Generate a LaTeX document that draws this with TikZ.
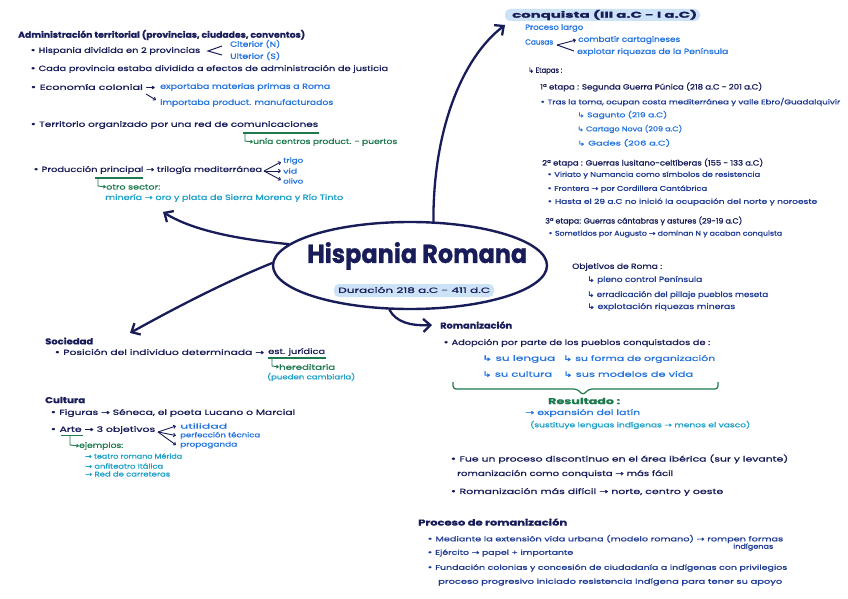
\documentclass[tikz,border=0pt]{standalone}
\usepackage{fontspec}
\usepackage{graphicx}
\setmainfont{Poppins}[FakeBold=0.9]
\newfontfamily\symf{DejaVu Sans}[FakeBold=0.6]
\usetikzlibrary{shapes.geometric,arrows.meta,calc}
\definecolor{navy}{RGB}{24,28,88}
\definecolor{mblue}{RGB}{30,58,146}
\definecolor{bblue}{RGB}{36,116,222}
\definecolor{dgreen}{RGB}{30,122,78}
\definecolor{cyanb}{RGB}{28,160,200}
\definecolor{hilite}{RGB}{204,226,247}
\newcommand\myra{{\symf →}}
\newcommand\myhk{{\symf ↳}}
\newcommand\mybul{{\symf •}}
\newcommand\tx[6]{\node[txt,#5] (#1) at (#2,#3) {\resizebox{#4pt}{\height}{#6}};}
\begin{document}
\begin{tikzpicture}[x=1pt,y=-1pt,
  txt/.style={anchor=west,inner sep=0pt,font=\fontsize{7.5}{9}\selectfont,text=navy},
  hd/.style={font=\bfseries\fontsize{8.5}{10}\selectfont},
  sm/.style={font=\fontsize{6.8}{8}\selectfont},
  conn/.style={draw=navy,line width=2.3pt,line cap=round,-{Straight Barb[length=7pt,width=13pt]}},
  brn/.style={draw=navy,line width=0.9pt,-{Straight Barb[length=2pt,width=3.5pt]}},
  brl/.style={draw=navy,line width=1pt},
  uline/.style={draw=dgreen,line width=1.1pt},
  hookl/.style={draw=dgreen,line width=0.9pt,-{Straight Barb[length=1.8pt,width=3pt]}},
  hl/.style={fill=hilite,rounded corners=5pt}]
\fill[white] (0,0) rectangle (848,599);
\useasboundingbox (0,0) rectangle (848,599);

% highlights
\fill[hl] (505,9) rectangle (700,21);
\fill[hl] (334,284) rectangle (494,297);

% central node
\node[ellipse,draw=navy,line width=2.4pt,minimum width=274pt,minimum height=87pt] (hr) at (410,265.5) {};
\tx{title}{307}{256}{220}{font=\bfseries\fontsize{26}{28}\selectfont}{Hispania Romana}
\tx{dur}{338}{290}{152}{}{Duración 218 a.C - 411 d.C}

% tips
\coordinate (tipC) at (505,25);
\coordinate (tipA) at (163,212);
\coordinate (tipS) at (130,333);
\coordinate (tipR) at (432,325);
\draw[conn] (hr.62) .. controls (433,130) and (462,58) .. (tipC);
\draw[conn] (hr.170) .. controls (245,240) and (195,232) .. (tipA);
\draw[conn] (hr.179) .. controls (225,282) and (175,308) .. (tipS);
\draw[conn] (hr.245) .. controls (396,322) and (410,326) .. (tipR);

% ---------------- Administracion
\tx{a0}{18}{35}{287}{hd}{Administración territorial (provincias, ciudades, conventos)}
\tx{a1}{30}{51}{170}{}{\mybul\ Hispania dividida en 2 provincias}
\tx{a1a}{230}{44}{50}{text=bblue}{Citerior (N)}
\tx{a1b}{230}{56}{50}{text=bblue}{Ulterior (S)}
\coordinate (v1) at (208,51);
\draw[brl] ($(a1a.west)+(-8,2)$) -- (v1) -- ($(a1b.west)+(-8,-1)$);
\tx{a2}{30}{69}{358}{}{\mybul\ Cada provincia estaba dividida a efectos de administración de justicia}
\tx{a3}{30}{87}{125}{}{\mybul\ Economía colonial \myra}
\tx{a3a}{160}{87}{170}{text=bblue}{exportaba materias primas a Roma}
\tx{a3b}{160}{103}{173}{text=bblue}{importaba product. manufacturados}
\coordinate (e1) at (146,94);
\draw[brn] (e1) -- ($(a3b.west)+(-4,-3)$);
\tx{a4}{30}{125}{288}{}{\mybul\ Territorio organizado por una red de comunicaciones}
\draw[uline] (243,133) -- (319,133);
\tx{a4a}{253}{142}{144}{text=dgreen}{unía centros product. - puertos}
\draw[hookl] (245,133) -- (245,141) -- (a4a.west);
\tx{a5}{33}{170}{229}{}{\mybul\ Producción principal \myra\ trilogía mediterránea}
\draw[uline] (95,178) -- (143,178);
\tx{t1}{283}{161}{20}{text=bblue,sm}{trigo}
\tx{t2}{283}{171}{14}{text=bblue,sm}{vid}
\tx{t3}{283}{181}{20}{text=bblue,sm}{olivo}
\coordinate (v2) at (264,171);
\draw[brn] (v2) -- ($(t1.west)+(-2,1)$);
\draw[brn] (v2) -- ($(t2.west)+(-2,0)$);
\draw[brn] (v2) -- ($(t3.west)+(-2,-1)$);
\tx{a6}{106}{187}{54}{text=dgreen}{otro sector:}
\draw[hookl] (98,178) -- (98,186) -- (a6.west);
\tx{a7}{105}{198}{238}{text=cyanb}{minería \myra\ oro y plata de Sierra Morena y Río Tinto}

% ---------------- Conquista
\tx{c0}{512}{15}{185}{hd}{conquista (III a.C - I a.C)}
\tx{c1}{525}{28}{58}{text=bblue}{Proceso largo}
\tx{c2}{525}{42}{28}{text=bblue}{Causas}
\tx{c2a}{578}{40}{102}{text=bblue}{combatir cartagineses}
\tx{c2b}{577}{52}{151}{text=bblue}{explotar riquezas de la Península}
\coordinate (v3) at (557,45);
\draw[brn] (v3) -- ($(c2a.west)+(-2,0)$);
\draw[brl] (v3) -- ($(c2b.west)+(-3,-1)$);
\tx{c3}{528}{71}{34}{}{\myhk\ Etapas :}
\tx{c4}{540}{87}{222}{}{1ª etapa : Segunda Guerra Púnica (218 a.C - 201 a.C)}
\tx{c5}{540}{102}{300}{text=mblue,sm}{\mybul\ Tras la toma, ocupan costa mediterránea y valle Ebro/Guadalquivir}
\tx{c6}{577}{115}{90}{text=bblue,sm}{\myhk\ Sagunto (219 a.C)}
\tx{c7}{577}{129}{105}{text=bblue,sm}{\myhk\ Cartago Nova (209 a.C)}
\tx{c8}{577}{143}{93}{text=bblue,sm}{\myhk\ Gades (206 a.C)}
\tx{c9}{542}{163}{221}{}{2ª etapa : Guerras lusitano-celtíberas (155 - 133 a.C)}
\tx{c10}{547}{175}{213}{text=mblue,sm}{\mybul\ Viriato y Numancia como símbolos de resistencia}
\tx{c11}{547}{189}{160}{text=mblue,sm}{\mybul\ Frontera \myra\ por Cordillera Cantábrica}
\tx{c12}{547}{202}{270}{text=mblue,sm}{\mybul\ Hasta el 29 a.C no inició la ocupación del norte y noroeste}
\tx{c13}{545}{221}{197}{}{3ª etapa: Guerras cántabras y astures (29-19 a.C)}
\tx{c14}{548}{234}{234}{text=mblue,sm}{\mybul\ Sometidos por Augusto \myra\ dominan N y acaban conquista}
\tx{c15}{572}{267}{90}{}{Objetivos de Roma :}
\tx{c16}{587}{280}{115}{text=mblue}{\myhk\ pleno control Península}
\tx{c17}{587}{295}{181}{text=mblue}{\myhk\ erradicación del pillaje pueblos meseta}
\tx{c18}{587}{307}{148}{text=mblue}{\myhk\ explotación riquezas mineras}

% ---------------- Sociedad
\tx{s0}{45}{341}{48}{hd}{Sociedad}
\tx{s1}{54}{352}{210}{}{\mybul\ Posición del individuo determinada \myra}
\tx{s1a}{268}{352}{57}{}{est. jurídica}
\draw[uline] (268,358) -- (326,358);
\tx{s2}{279}{367}{56}{text=dgreen}{hereditaria}
\draw[hookl] (272,358) -- (272,366) -- (s2.west);
\tx{s3}{267}{377}{88}{text=cyanb,sm}{(pueden cambiarla)}

% ---------------- Cultura
\tx{u0}{45}{400}{40}{hd}{Cultura}
\tx{u1}{50}{413}{245}{}{\mybul\ Figuras \myra\ Séneca, el poeta Lucano o Marcial}
\tx{u2}{50}{430}{105}{}{\mybul\ Arte \myra\ 3 objetivos}
\draw[uline] (61,435.5) -- (83,435.5);
\tx{u2a}{180}{426}{47}{text=bblue,sm}{utilidad}
\tx{u2b}{180}{435.5}{80}{text=bblue,sm}{perfección técnica}
\tx{u2c}{180}{445}{57}{text=bblue,sm}{propaganda}
\coordinate (v4) at (158,432);
\draw[brn] (v4) -- ($(u2a.west)+(-4,0)$);
\draw[brn] (v4) -- ($(u2b.west)+(-4,0)$);
\draw[brn] (v4) -- ($(u2c.west)+(-4,0)$);
\tx{u3}{79}{446}{44}{text=dgreen}{ejemplos:}
\draw[hookl] (70,435.5) -- (70,445) -- (u3.west);
\tx{u4}{85}{456}{97}{text=cyanb,sm}{\myra\ teatro romano Mérida}
\tx{u5}{85}{466}{78}{text=cyanb,sm}{\myra\ anfiteatro Itálica}
\tx{u6}{85}{474}{85}{text=cyanb,sm}{\myra\ Red de carreteras}

% ---------------- Romanizacion
\tx{r0}{440}{325}{72}{hd}{Romanización}
\tx{r1}{443}{343}{267}{}{\mybul\ Adopción por parte de los pueblos conquistados de :}
\tx{r2}{482}{359}{73}{text=bblue}{\myhk\ su lengua}
\tx{r3}{563}{359}{152}{text=bblue}{\myhk\ su forma de organización}
\tx{r4}{482}{374}{70}{text=bblue}{\myhk\ su cultura}
\tx{r5}{563}{374}{130}{text=bblue}{\myhk\ sus modelos de vida}
\coordinate (bl) at (453,382);
\coordinate (br) at (718,382);
\coordinate (bm) at (583,395);
\draw[draw=dgreen,line width=1.2pt,rounded corners=3pt] (bl) -- (453,389) -- (577,389) -- (bm) -- (589,389) -- (718,389) -- (br);
\tx{r6}{548}{401}{72}{hd,text=dgreen}{Resultado :}
\tx{r7}{525}{413}{115}{text=bblue}{\myra\ expansión del latín}
\tx{r8}{530}{425}{220}{text=cyanb,sm}{(sustituye lenguas indígenas \myra\ menos el vasco)}
\tx{r9}{450}{459}{338}{}{\mybul\ Fue un proceso discontinuo en el área ibérica (sur y levante)}
\tx{r10}{457}{474}{216}{}{romanización como conquista \myra\ más fácil}
\tx{r11}{450}{492}{273}{}{\mybul\ Romanización más difícil \myra\ norte, centro y oeste}

% ---------------- Proceso de romanizacion
\tx{p0}{418}{522}{149}{hd}{Proceso de romanización}
\tx{p1}{427}{539}{356}{text=mblue,sm}{\mybul\ Mediante la extensión vida urbana (modelo romano) \myra\ rompen formas}
\tx{p1b}{733}{547}{40}{text=mblue,sm}{indígenas}
\tx{p2}{427}{553}{146}{text=mblue,sm}{\mybul\ Ejército \myra\ papel + importante}
\tx{p3}{427}{568}{360}{text=mblue,sm}{\mybul\ Fundación colonias y concesión de ciudadanía a indígenas con privilegios}
\tx{p4}{438}{582}{344}{text=mblue,sm}{proceso progresivo iniciado resistencia indígena para tener su apoyo}
\end{tikzpicture}
\end{document}
